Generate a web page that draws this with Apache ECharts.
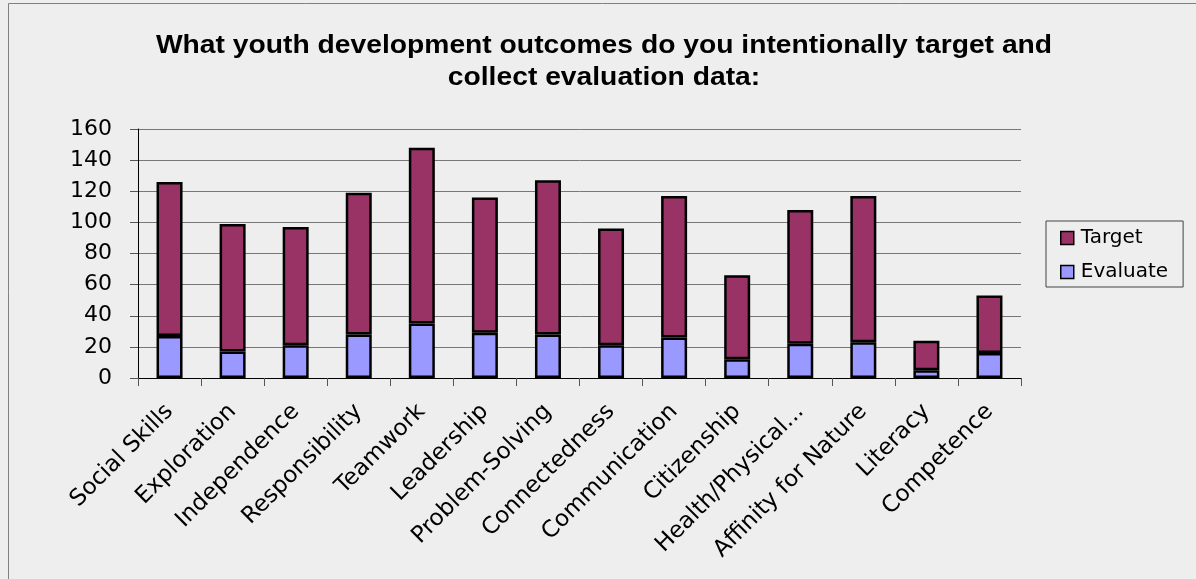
<!DOCTYPE html>
<html>
<head>
<meta charset="utf-8">
<script src="https://cdn.jsdelivr.net/npm/echarts@6/dist/echarts.min.js"></script>
<style>
  html, body { margin: 0; padding: 0; background: #eeeeee; }
  #chart { width: 1196px; height: 579px; }
</style>
</head>
<body>
<div id="chart"></div>
<script>
// Outcome categories along the x axis
const categories = [
  'Social Skills', 'Exploration', 'Independence', 'Responsibility', 'Teamwork',
  'Leadership', 'Problem-Solving', 'Connectedness', 'Communication', 'Citizenship',
  'Health/Physical...', 'Affinity for Nature', 'Literacy', 'Competence'
];
// Programs that collect evaluation data (lower stack segment)
const evaluateValues = [27, 17, 21, 28, 35, 29, 28, 21, 26, 12, 22, 23, 5, 16];
// Programs that target the outcome (upper stack segment)
const targetValues = [99, 82, 76, 91, 113, 87, 99, 75, 91, 54, 86, 94, 19, 37];
// Value axis ticks
const yTicks = { min: 0, max: 160, interval: 20 };
const titleText = 'What youth development outcomes do you intentionally target and\ncollect evaluation data:';

const chart = echarts.init(document.getElementById('chart'), null, { renderer: 'canvas' });

const labelFont = 'DejaVu Sans, Verdana, sans-serif';

chart.setOption({
  backgroundColor: '#eeeeee',
  animation: false,
  graphic: [
    {
      // outer chart frame
      type: 'rect',
      shape: { x: 8.5, y: 3.5, width: 1200, height: 600 },
      style: { fill: 'none', stroke: '#808080', lineWidth: 1 },
      silent: true,
      z: -1
    },
    {
      // two-line bold title, slightly widened
      type: 'text',
      x: 604,
      y: 30,
      scaleX: 1.13,
      silent: true,
      style: {
        text: titleText,
        textAlign: 'center',
        textVerticalAlign: 'top',
        fontFamily: 'Liberation Sans, Arial, sans-serif',
        fontWeight: 'bold',
        fontSize: 25,
        lineHeight: 32,
        fill: '#000'
      }
    }
  ],
  legend: {
    orient: 'vertical',
    left: 1046,
    top: 221,
    padding: [7, 15, 5, 14],
    itemGap: 14,
    itemWidth: 13,
    itemHeight: 13,
    icon: 'rect',
    borderColor: '#444',
    borderWidth: 1,
    backgroundColor: '#eeeeee',
    data: ['Target', 'Evaluate'],
    textStyle: { fontFamily: labelFont, fontSize: 20, color: '#000', padding: [0, 0, 0, 2] },
    itemStyle: { borderColor: '#000', borderWidth: 1.5 }
  },
  grid: { left: 138, right: 175, top: 129, bottom: 201, containLabel: false },
  xAxis: {
    type: 'category',
    data: categories,
    axisLine: { lineStyle: { color: '#000', width: 1 } },
    axisTick: { show: true, alignWithLabel: false, length: 8, lineStyle: { color: '#555' } },
    axisLabel: {
      rotate: 45,
      interval: 0,
      margin: 30,
      fontFamily: labelFont,
      fontSize: 23,
      color: '#000'
    }
  },
  yAxis: {
    type: 'value',
    min: yTicks.min,
    max: yTicks.max,
    interval: yTicks.interval,
    axisLine: { show: true, lineStyle: { color: '#000', width: 1 } },
    axisTick: { show: true, length: 8, lineStyle: { color: '#555' } },
    axisLabel: { margin: 26, fontFamily: labelFont, fontSize: 22, color: '#000' },
    splitLine: { lineStyle: { color: '#777', width: 1 } }
  },
  series: [
    {
      name: 'Evaluate',
      type: 'bar',
      stack: 'total',
      data: evaluateValues,
      barWidth: 26,
      itemStyle: { color: '#9999ff', borderColor: '#000', borderWidth: 2.5 }
    },
    {
      name: 'Target',
      type: 'bar',
      stack: 'total',
      data: targetValues,
      barWidth: 26,
      itemStyle: { color: '#993366', borderColor: '#000', borderWidth: 2.5 }
    }
  ]
});
</script>
</body>
</html>
